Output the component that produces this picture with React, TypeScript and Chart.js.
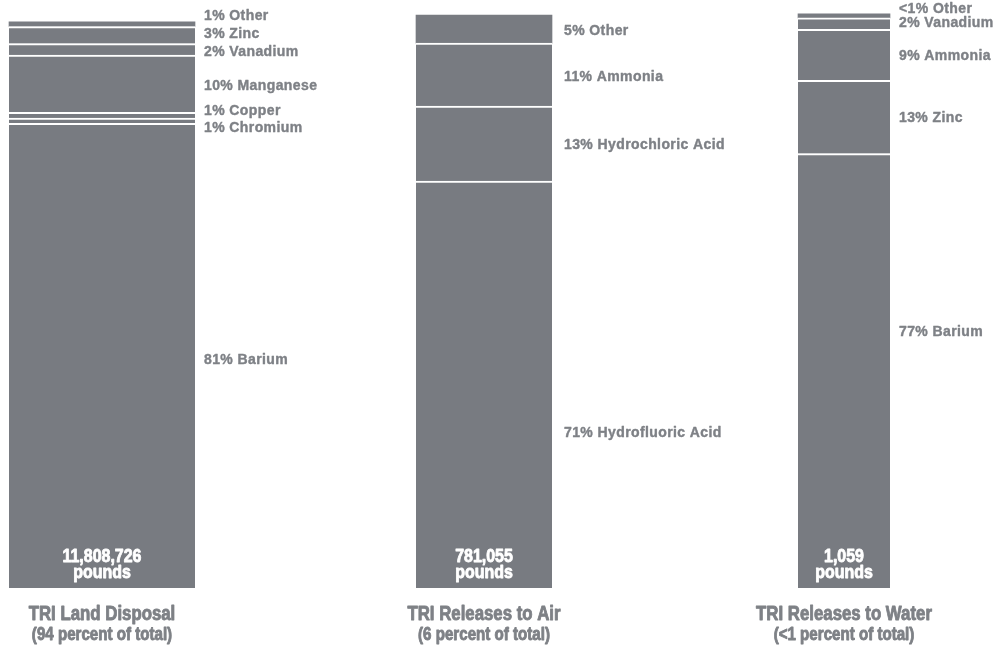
import React, { useEffect, useRef } from "react";
import { Chart, registerables } from "chart.js";

Chart.register(...registerables);

// ---------- data ----------
const landNames = ["Barium", "Chromium", "Copper", "Manganese", "Vanadium", "Zinc", "Other"];
const landValues = [81.1, 0.9, 1.0, 10.0, 2.0, 3.0, 0.8];
const landLabels = ["81% Barium", "1% Chromium", "1% Copper", "10% Manganese", "2% Vanadium", "3% Zinc", "1% Other"];

const airNames = ["Hydrofluoric Acid", "Hydrochloric Acid", "Ammonia", "Other"];
const airValues = [71.0, 13.1, 11.0, 4.9];
const airLabels = ["71% Hydrofluoric Acid", "13% Hydrochloric Acid", "11% Ammonia", "5% Other"];

const waterNames = ["Barium", "Zinc", "Ammonia", "Vanadium", "Other"];
const waterValues = [75.8, 12.8, 8.9, 2.0, 0.7];
const waterLabels = ["77% Barium", "13% Zinc", "9% Ammonia", "2% Vanadium", "<1% Other"];

const totals = ["11,808,726", "781,055", "1,059"];
const titles = ["TRI Land Disposal", "TRI Releases to Air", "TRI Releases to Water"];
const subtitles = ["(94 percent of total)", "(6 percent of total)", "(<1 percent of total)"];

// label anchors, in axis (percent) units
const landLabelAt = [39.9, 80.5, 83.5, 87.7, 93.8, 96.8, 100.0];
const airLabelAt = [27.2, 77.5, 89.3, 97.3];
const waterLabelAt = [44.9, 82.2, 93.0, 98.7, 101.2];

// ---------- layout / style ----------
const W = 1003;
const H = 649;
const TOP = 15;
const BASE = 588;
const LAYOUT = [
  { left: 9, right: 195, gap: 9 },
  { left: 416, right: 552, gap: 12 },
  { left: 798, right: 890, gap: 9 },
];
const BAR_COLOR = "#787b81";
const TEXT_COLOR = "#7e8186";
const SANS = '"Liberation Sans", Arial, sans-serif';
const LABEL_FONT = "bold 14px " + SANS;
const NARROW_SCALE = 0.84;

const PANELS = [
  { names: landNames, values: landValues, labels: landLabels, labelAt: landLabelAt },
  { names: airNames, values: airValues, labels: airLabels, labelAt: airLabelAt },
  { names: waterNames, values: waterValues, labels: waterLabels, labelAt: waterLabelAt },
];

function narrowText(ctx: CanvasRenderingContext2D, text: string, x: number, y: number, size: number, color: string) {
  ctx.save();
  ctx.translate(x, y);
  ctx.scale(NARROW_SCALE, 1);
  ctx.font = "bold " + size + "px " + SANS;
  ctx.textAlign = "center";
  ctx.textBaseline = "alphabetic";
  ctx.fillStyle = color;
  ctx.strokeStyle = color;
  ctx.lineWidth = 0.9;
  ctx.lineJoin = "round";
  ctx.fillText(text, 0, 0);
  ctx.strokeText(text, 0, 0);
  ctx.restore();
}

function Panel({ idx }: { idx: number }) {
  const ref = useRef<HTMLCanvasElement>(null);
  useEffect(() => {
    const p = PANELS[idx];
    const L = LAYOUT[idx];
    const n = p.values.length;
    const textPlugin = {
      id: "texts" + idx,
      afterDraw(chart: any) {
        const ctx = chart.ctx as CanvasRenderingContext2D;
        const area = chart.chartArea;
        const y = chart.scales.y;
        ctx.save();
        ctx.fillStyle = TEXT_COLOR;
        ctx.strokeStyle = TEXT_COLOR;
        ctx.lineWidth = 0.4;
        ctx.lineJoin = "round";
        ctx.font = LABEL_FONT;
        (ctx as any).letterSpacing = "0.4px";
        ctx.textAlign = "left";
        ctx.textBaseline = "alphabetic";
        p.labels.forEach((lab, i) => {
          const py = y.getPixelForValue(p.labelAt[i]);
          ctx.fillText(lab, area.right + L.gap, py + 5);
          ctx.strokeText(lab, area.right + L.gap, py + 5);
        });
        (ctx as any).letterSpacing = "0px";
        const cx = (area.left + area.right) / 2;
        const base = y.getPixelForValue(0);
        narrowText(ctx, totals[idx], cx, base - 26.5, 19, "#ffffff");
        narrowText(ctx, "pounds", cx, base - 10.5, 19, "#ffffff");
        narrowText(ctx, titles[idx], cx, base + 32, 20, TEXT_COLOR);
        narrowText(ctx, subtitles[idx], cx, base + 51.5, 18, TEXT_COLOR);
        ctx.restore();
      },
    };
    const chart = new Chart(ref.current as HTMLCanvasElement, {
      type: "bar",
      data: {
        labels: [titles[idx]],
        datasets: p.values.map((v, i) => ({
          label: p.names[i],
          data: [v],
          backgroundColor: BAR_COLOR,
          borderColor: "#ffffff",
          borderWidth: i === n - 1 ? 0 : { top: 2, right: 0, bottom: 0, left: 0 },
          borderSkipped: false,
          barPercentage: 1,
          categoryPercentage: 1,
          clip: false,
        })) as any,
      },
      options: {
        animation: false,
        responsive: false,
        events: [],
        layout: { padding: { left: L.left, right: W - L.right, top: TOP, bottom: H - BASE } },
        scales: {
          x: { display: false, stacked: true },
          y: { display: false, stacked: true, min: 0, max: 100 },
        },
        plugins: { legend: { display: false }, tooltip: { enabled: false } },
      },
      plugins: [textPlugin],
    });
    return () => chart.destroy();
  }, [idx]);
  return (
    <canvas
      ref={ref}
      width={W}
      height={H}
      style={{ position: "absolute", left: 0, top: 0, width: W, height: H }}
    />
  );
}

export default function App() {
  return (
    <div style={{ position: "fixed", left: 0, top: 0, width: W, height: H, background: "#ffffff" }}>
      <Panel idx={0} />
      <Panel idx={1} />
      <Panel idx={2} />
    </div>
  );
}
